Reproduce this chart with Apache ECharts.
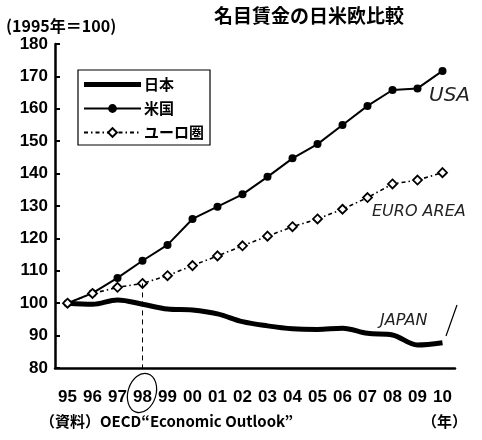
<!DOCTYPE html>
<html>
<head>
<meta charset="utf-8">
<script src="https://cdn.jsdelivr.net/npm/echarts@6/dist/echarts.min.js"></script>
<style>
  html, body { margin: 0; padding: 0; background: #fff; }
  #chart { width: 482px; height: 440px; }
</style>
</head>
<body>
<div id="chart"></div>
<script>
// 年（1995年＝100）
const years = ['95', '96', '97', '98', '99', '00', '01', '02', '03', '04', '05', '06', '07', '08', '09', '10'];
const japan = [100, 99.7, 101, 99.7, 98.2, 97.9, 96.7, 94.3, 93, 92.1, 91.9, 92.3, 90.7, 90.2, 87.1, 87.8];
const usa = [100, 103.1, 107.8, 113.1, 118, 126, 129.8, 133.6, 139, 144.7, 149.1, 155, 160.9, 165.8, 166.3, 171.7];
const euro = [100, 103, 104.9, 106.1, 108.5, 111.6, 114.6, 117.7, 120.7, 123.6, 126, 129, 132.6, 136.8, 138, 140.3];
const seriesNames = ['日本', '米国', 'ユーロ圏'];
const markYear = '98';

const FONT = "'Liberation Sans', 'Noto Sans CJK JP', sans-serif";
const JP = "'Noto Sans CJK JP', 'Liberation Sans', sans-serif";

const chart = echarts.init(document.getElementById('chart'));

const option = {
    animation: false,
    backgroundColor: '#fff',
    textStyle: { fontFamily: FONT, color: '#000' },
    grid: { left: 55, right: 27, top: 44, bottom: 72 },
    title: {
        text: '名目賃金の日米欧比較',
        left: 304,
        top: 1,
        textAlign: 'center',
        textStyle: { fontFamily: JP, fontSize: 19, fontWeight: 'bold', color: '#000' }
    },
    legend: {
        orient: 'vertical',
        left: 78,
        top: 70,
        width: 129,
        padding: [7, 6, 5, 5],
        itemWidth: 57,
        itemHeight: 11,
        itemGap: 9,
        borderColor: '#000',
        borderWidth: 1.2,
        backgroundColor: '#fff',
        textStyle: { fontFamily: JP, fontSize: 15, fontWeight: 'bold', color: '#000', padding: [0, 0, 0, -2] },
        data: [
            // 日本は太線だけのアイコン
            { name: seriesNames[0], icon: 'path://M0,0H57V5H0Z' },
            seriesNames[1],
            seriesNames[2]
        ]
    },
    xAxis: {
        type: 'category',
        data: years,
        boundaryGap: true,
        axisLine: { lineStyle: { color: '#000', width: 2.5 } },
        axisTick: { inside: true, length: 5, interval: 0, lineStyle: { color: '#000', width: 2 } },
        axisLabel: { margin: 21, interval: 0, fontSize: 17, fontWeight: 'bold', color: '#000' }
    },
    yAxis: {
        type: 'value',
        min: 80,
        max: 180,
        interval: 10,
        axisLine: { show: true, lineStyle: { color: '#000', width: 2.5 } },
        axisTick: { show: true, inside: true, length: 5, lineStyle: { color: '#000', width: 2 } },
        axisLabel: { margin: 7, fontSize: 17, fontWeight: 'bold', color: '#000' },
        splitLine: { show: false }
    },
    series: [
        {
            name: seriesNames[0],
            type: 'line',
            data: japan,
            smooth: 0.35,
            symbol: 'none',
            lineStyle: { color: '#000', width: 5 },
            itemStyle: { color: '#000' },
            z: 2
        },
        {
            name: seriesNames[1],
            type: 'line',
            data: usa,
            symbol: 'circle',
            symbolSize: 8,
            lineStyle: { color: '#000', width: 2 },
            itemStyle: { color: '#000' },
            z: 3
        },
        {
            name: seriesNames[2],
            type: 'line',
            data: euro,
            symbol: 'diamond',
            symbolSize: 9,
            lineStyle: { color: '#000', width: 1.6, type: [4, 3, 1.5, 3] },
            itemStyle: { color: '#fff', borderColor: '#000', borderWidth: 1.8 },
            z: 4,
            markLine: {
                silent: true,
                symbol: 'none',
                label: { show: false },
                lineStyle: { color: '#000', width: 1, type: [5, 4] },
                data: [[
                    { coord: [markYear, euro[years.indexOf(markYear)]] },
                    { coord: [markYear, 80] }
                ]]
            }
        }
    ],
    graphic: [
        {
            type: 'text',
            left: 6,
            top: 18,
            style: { text: '(1995年＝100)', font: "bold 16px " + JP, fill: '#000' }
        },
        {
            type: 'text',
            left: 40,
            top: 414,
            style: { text: '（資料）OECD“Economic Outlook”', font: "bold 15px " + JP, fill: '#000' }
        },
        {
            type: 'text',
            left: 422,
            top: 414,
            style: { text: '（年）', font: "bold 15px " + JP, fill: '#000' }
        },
        // 手書きの注記
        {
            type: 'text',
            left: 429,
            top: 86,
            style: { text: 'USA', font: "italic 20px 'DejaVu Sans'", fill: '#222' }
        },
        {
            type: 'text',
            left: 372,
            top: 204,
            style: { text: 'EURO AREA', font: "italic 16px 'DejaVu Sans'", fill: '#222' }
        },
        {
            type: 'text',
            left: 380,
            top: 313,
            style: { text: 'JAPAN', font: "italic 16px 'DejaVu Sans'", fill: '#222' }
        },
        {
            type: 'line',
            shape: { x1: 446, y1: 336, x2: 457, y2: 305 },
            style: { stroke: '#000', lineWidth: 1.2 }
        },
        {
            type: 'ellipse',
            shape: { cx: 142, cy: 393, rx: 14, ry: 20 },
            rotation: -0.3,
            originX: 142,
            originY: 393,
            style: { fill: 'none', stroke: '#000', lineWidth: 1.2 }
        }
    ]
};

chart.setOption(option);
</script>
</body>
</html>
